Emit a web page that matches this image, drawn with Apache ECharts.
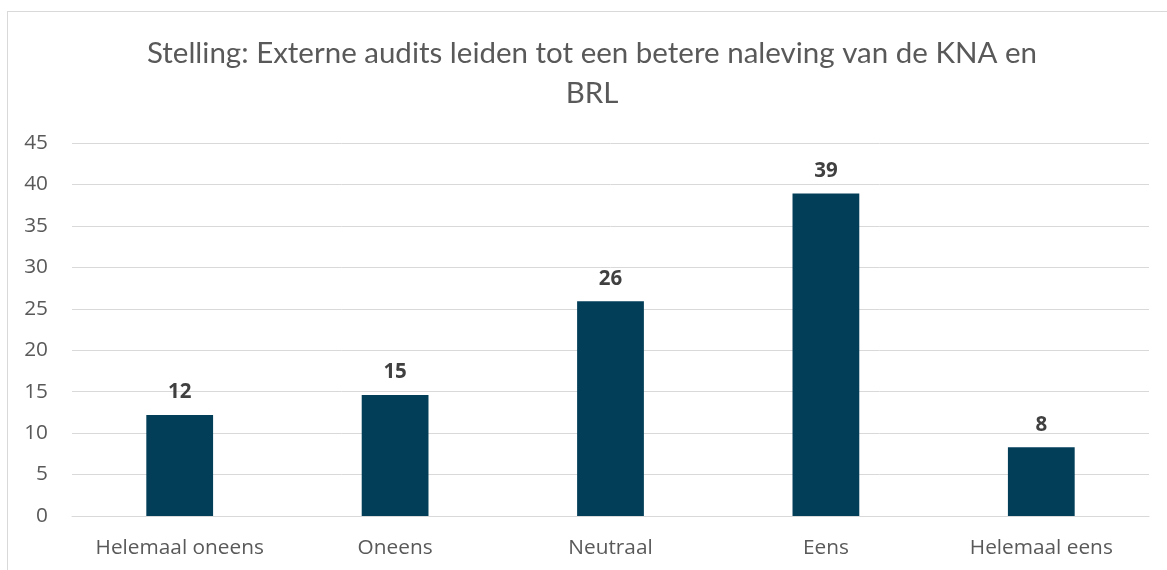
<!DOCTYPE html>
<html>
<head>
<meta charset="utf-8">
<script src="https://cdn.jsdelivr.net/npm/echarts@6/dist/echarts.min.js"></script>
<style>
    html, body { margin: 0; padding: 0; background: #fff; }
    #frame { position: absolute; left: 7px; top: 11px; width: 1180px; height: 580px; border: 1px solid #d9d9d9; box-sizing: border-box; }
    #chart { position: absolute; left: 0; top: 0; width: 1167px; height: 570px; }
</style>
</head>
<body>
<div id="frame"></div>
<div id="chart"></div>
<script>
var categories = ['Helemaal oneens', 'Oneens', 'Neutraal', 'Eens', 'Helemaal eens'];
var values = [12.2, 14.6, 25.9, 38.9, 8.3];
var yTicks = [0, 5, 10, 15, 20, 25, 30, 35, 40, 45];

(function () {
    var chart = echarts.init(document.getElementById('chart'));
    var option = {
        animation: false,
        title: {
            text: 'Stelling: Externe audits leiden tot een betere naleving van de KNA en\nBRL',
            left: 587,
            textAlign: 'center',
            top: 28,
            textStyle: {
                color: '#595959',
                fontFamily: 'Lato',
                fontWeight: 'normal',
                fontSize: 29.5,
                lineHeight: 40
            }
        },
        grid: {
            left: 72,
            right: 18,
            top: 143,
            bottom: 54
        },
        xAxis: {
            type: 'category',
            data: categories,
            axisTick: { show: false },
            axisLine: { lineStyle: { color: '#d9d9d9' } },
            axisLabel: {
                interval: 0,
                hideOverlap: false,
                color: '#595959',
                fontFamily: 'Open Sans',
                fontSize: 20.8,
                margin: 22
            }
        },
        yAxis: {
            type: 'value',
            min: yTicks[0],
            max: yTicks[yTicks.length - 1],
            interval: 5,
            axisLine: { show: false },
            axisTick: { show: false },
            splitLine: { lineStyle: { color: '#d9d9d9' } },
            axisLabel: {
                color: '#595959',
                fontFamily: 'Open Sans',
                fontSize: 20.8,
                margin: 24
            }
        },
        series: [
            {
                type: 'bar',
                data: values,
                barWidth: '31%',
                itemStyle: { color: '#023e58' },
                label: {
                    show: true,
                    position: 'top',
                    distance: 12,
                    color: '#404040',
                    fontFamily: 'Open Sans',
                    fontWeight: 'bold',
                    fontSize: 20.5,
                    formatter: function (p) { return Math.round(p.value); }
                }
            }
        ]
    };
    chart.setOption(option);
})();
</script>
</body>
</html>
